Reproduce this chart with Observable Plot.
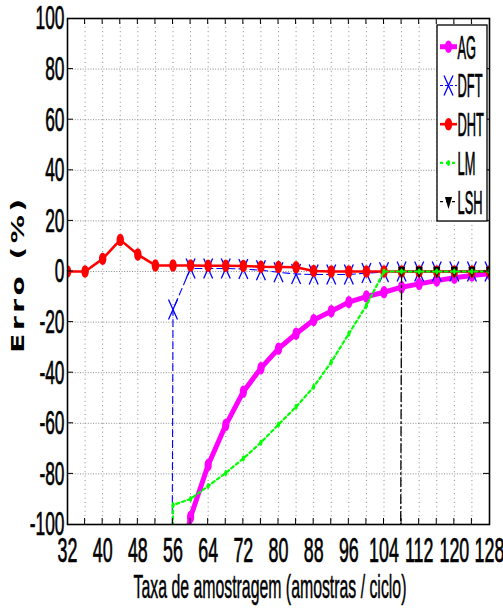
<!DOCTYPE html>
<html>
<head>
<meta charset="utf-8">
<script src="https://cdn.jsdelivr.net/npm/d3@7"></script>
<script src="https://cdn.jsdelivr.net/npm/@observablehq/plot@0.6"></script>
<style>
  html, body { margin: 0; padding: 0; background: #fff; }
  #chart { width: 503px; height: 612px; }
</style>
</head>
<body>
<div id="chart"></div>
<script>
// Sampling rate (samples per cycle)
const rates = [32, 36, 40, 44, 48, 52, 56, 60, 64, 68, 72, 76, 80, 84, 88, 92, 96, 100, 104, 108, 112, 116, 120, 124, 128];

// Error (%) per method; null = no estimate, large negatives fall far below the axis
const AG  = [null, null, null, null, null, null, -131, -97, -76.5, -60.7, -47.5, -38.2, -30.5, -24.6, -19.2, -15.7, -12.1, -9.9, -8.2, -6.2, -4.9, -3.6, -2.5, -1.6, -0.9];
const DFT = [null, null, null, null, null, -2000, -15, 1.2, 1.2, 1.2, 1.0, 0.5, -0.3, -1, -1.2, -1.2, -1.2, -0.6, -0.3, 0, 0, 0, 0, 0, 0];
const DHT = [0, 0, 5, 12.5, 6.7, 2.4, 2.4, 2.4, 2.3, 2.3, 2.2, 1.9, 1.8, 1.7, 0.2, 0, 0, 0, 0, 0, 0, 0, 0, 0, 0];
const LM  = [null, null, null, null, null, -2000, -92.3, -89.9, -84.8, -79.6, -73.9, -67.6, -60.5, -53.5, -45.6, -35.8, -24.6, -13.4, 0, 0, 0, 0, 0, 0, 0];
const LSH = [null, null, null, null, null, null, null, null, null, null, null, null, null, null, null, null, null, null, -2000, 0, 0, 0, 0, 0, 0];

const seriesNames = ["AG", "DFT", "DHT", "LM", "LSH"];
const seriesValues = [AG, DFT, DHT, LM, LSH];

const xTickLabels = [32, 40, 48, 56, 64, 72, 80, 88, 96, 104, 112, 120, 128];
const yTickLabels = [-100, -80, -60, -40, -20, 0, 20, 40, 60, 80, 100];
const xMinor = [36, 40, 44, 48, 52, 56, 60, 64, 68, 72, 76, 80, 84, 88, 92, 96, 100, 104, 108, 112, 116, 120, 124];
const yMinor = [-80, -60, -40, -20, 0, 20, 40, 60, 80];

// Marker shapes (custom symbol types)
const K = 0.5523;
const ellipse = (rx, ry) => ({
  draw(c) {
    c.moveTo(rx, 0);
    c.bezierCurveTo(rx, ry * K, rx * K, ry, 0, ry);
    c.bezierCurveTo(-rx * K, ry, -rx, ry * K, -rx, 0);
    c.bezierCurveTo(-rx, -ry * K, -rx * K, -ry, 0, -ry);
    c.bezierCurveTo(rx * K, -ry, rx, -ry * K, rx, 0);
    c.closePath();
  }
});
const cross = (w, h) => ({
  draw(c) { c.moveTo(-w, -h); c.lineTo(w, h); c.moveTo(-w, h); c.lineTo(w, -h); }
});
const triDown = (w, h) => ({
  draw(c) { c.moveTo(-w, -h * 0.4); c.lineTo(w, -h * 0.4); c.lineTo(0, h * 0.6); c.closePath(); }
});

const styles = {
  AG:  {color: "#ff00ff", width: 5,   dash: null,       symbol: ellipse(3.6, 6.2), fill: true},
  DFT: {color: "#0000ff", width: 1.1, dash: "7,4",      symbol: cross(4.5, 10),   fill: false},
  DHT: {color: "#ff0000", width: 2.6, dash: null,       symbol: ellipse(3.7, 6.2), fill: true},
  LM:  {color: "#00ff00", width: 2.2, dash: "3,3",      symbol: ellipse(1.6, 3),  fill: true},
  LSH: {color: "#000000", width: 1.3, dash: "9,3,2,3",  symbol: triDown(3.6, 12), fill: true}
};

const rows = seriesNames.map((name, k) =>
  rates.map((r, i) => ({rate: r, erro: seriesValues[k][i], metodo: name})).filter(d => d.erro != null)
);

// drawing order: AG, DFT, DHT, LSH, LM
const order = ["AG", "DFT", "DHT", "LSH", "LM"];
const seriesMarks = order.flatMap(name => {
  const s = styles[name];
  const data = rows[seriesNames.indexOf(name)];
  return [
    Plot.line(data, {x: "rate", y: "erro", stroke: s.color, strokeWidth: s.width,
      strokeDasharray: s.dash, strokeLinejoin: "round", clip: true}),
    Plot.dot(data, {x: "rate", y: "erro", symbol: s.symbol, r: 4,
      fill: s.fill ? s.color : "none", stroke: s.fill ? "none" : s.color,
      strokeWidth: s.fill ? 0 : 1.3, clip: true})
  ];
});

const FONT = "'Liberation Sans', Arial, Helvetica, sans-serif";

const chart = Plot.plot({
  width: 503,
  height: 612,
  marginLeft: 67,
  marginRight: 14,
  marginTop: 18,
  marginBottom: 88,
  style: {fontFamily: FONT, background: "#fff", color: "#000"},
  x: {domain: [32, 128]},
  y: {domain: [-100, 100]},
  marks: [
    Plot.gridX(xMinor, {stroke: "#8a8a8a", strokeOpacity: 1, strokeWidth: 1, strokeDasharray: "1,3.4"}),
    Plot.gridY(yMinor, {stroke: "#8a8a8a", strokeOpacity: 1, strokeWidth: 1, strokeDasharray: "1,1.6"}),
    ...seriesMarks,
    Plot.frame({stroke: "#000", strokeWidth: 1.6}),
    Plot.axisX(xTickLabels, {tickSize: 0, tickPadding: 13, fontSize: 35, label: null, tickFormat: d => String(d)}),
    Plot.axisY(yTickLabels, {tickSize: 0, tickPadding: 3, fontSize: 34, label: null, tickFormat: d => String(d)})
  ]
});

document.getElementById("chart").appendChild(chart);

const svg = d3.select(chart);
const xs = chart.scale("x"), ys = chart.scale("y");
const [x0, x1] = xs.range;
const [yb, yt] = ys.range;

// compress text horizontally around its anchor, with a light outline for weight
function squeeze(node, s) {
  const t = node.getAttribute("transform") || "";
  const x = +node.getAttribute("x") || 0;
  const y = +node.getAttribute("y") || 0;
  node.setAttribute("transform", `${t} translate(${x},${y}) scale(${s},1) translate(${-x},${-y})`);
  node.setAttribute("stroke", "#000");
  node.setAttribute("stroke-width", "0.7");
}
svg.selectAll('g[aria-label="x-axis tick label"] text, g[aria-label="y-axis tick label"] text')
  .each(function() { squeeze(this, 0.51); });

// inward tick marks on all four sides
const ticks = svg.append("g").attr("stroke", "#000").attr("stroke-width", 1);
xMinor.forEach(v => {
  const px = xs.apply(v);
  ticks.append("line").attr("x1", px).attr("x2", px).attr("y1", yb).attr("y2", yb - 6);
  ticks.append("line").attr("x1", px).attr("x2", px).attr("y1", yt).attr("y2", yt + 6);
});
yMinor.forEach(v => {
  const py = ys.apply(v);
  ticks.append("line").attr("x1", x0).attr("x2", x0 + 6).attr("y1", py).attr("y2", py);
  ticks.append("line").attr("x1", x1).attr("x2", x1 - 6).attr("y1", py).attr("y2", py);
});

// axis titles
svg.append("text")
  .attr("transform", "translate(270,598) scale(0.48,1)")
  .attr("text-anchor", "middle")
  .style("font-family", FONT).style("font-size", "33px")
  .attr("fill", "#000").attr("stroke", "#000").attr("stroke-width", 0.5)
  .text("Taxa de amostragem (amostras / ciclo)");

svg.append("text")
  .attr("transform", "translate(24,274) rotate(-90) scale(1,0.62)")
  .attr("text-anchor", "middle")
  .style("font-family", "'DejaVu Sans', Verdana, sans-serif").style("font-size", "28px").style("font-weight", "bold")
  .style("letter-spacing", "3.5px").attr("fill", "#000")
  .text("Erro (%)");

// legend box
const lg = svg.append("g");
const lx = 437, ly = 25, lw = 50, lh = 196;
lg.append("rect").attr("x", lx).attr("y", ly).attr("width", lw).attr("height", lh)
  .attr("fill", "#fff").attr("stroke", "#000").attr("stroke-width", 1.3);
seriesNames.forEach((name, i) => {
  const s = styles[name];
  const cy = ly + 21.7 + i * 38.75;
  lg.append("line").attr("x1", lx + 3).attr("x2", lx + 20).attr("y1", cy).attr("y2", cy)
    .attr("stroke", s.color).attr("stroke-width", s.width)
    .attr("stroke-dasharray", name === "DFT" ? "3,2" : name === "LSH" ? "3,3" : s.dash);
  lg.append("path").attr("d", d3.symbol().type(s.symbol)())
    .attr("transform", `translate(${lx + 11.5},${cy})`)
    .attr("fill", s.fill ? s.color : "none")
    .attr("stroke", s.fill ? "none" : s.color).attr("stroke-width", 1.3);
  lg.append("text")
    .attr("transform", `translate(${lx + 20.5},${cy + 11.8}) scale(0.39,1)`)
    .attr("text-anchor", "start")
    .style("font-family", FONT).style("font-size", "33px")
    .attr("fill", "#000").attr("stroke", "#000").attr("stroke-width", 0.7)
    .text(name);
});
</script>
</body>
</html>
